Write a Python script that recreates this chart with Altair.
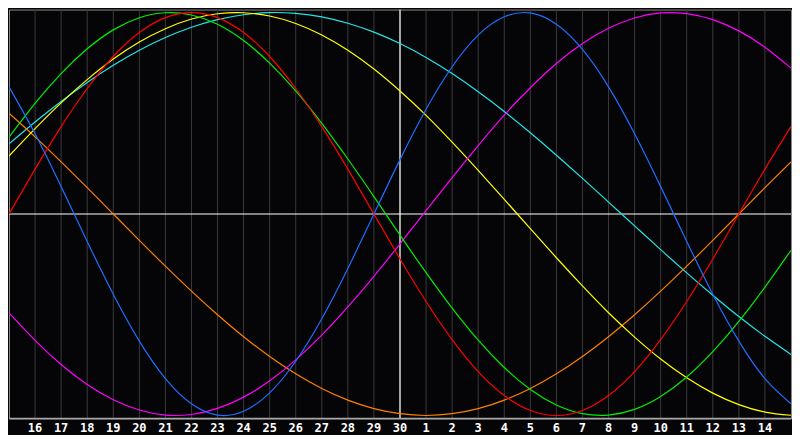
import altair as alt
import pandas as pd

# ---- data ----
day_index = list(range(31))          # sample days, 0 = the 15th of the first month
today_index = 15                     # the 30th (white vertical line)
tick_index = list(range(1, 30))
tick_labels = ["16", "17", "18", "19", "20", "21", "22", "23", "24", "25",
               "26", "27", "28", "29", "30", "1", "2", "3", "4", "5",
               "6", "7", "8", "9", "10", "11", "12", "13", "14"]

physical = [0.631, 0.398, 0.136, -0.136, -0.398, -0.631, -0.817, -0.942, -0.998, -0.979,
            -0.888, -0.731, -0.520, -0.270, 0.000, 0.270, 0.520, 0.731, 0.888, 0.979,
            0.998, 0.942, 0.817, 0.631, 0.398, 0.136, -0.136, -0.398, -0.631, -0.817, -0.942]
emotional = [0.000, 0.223, 0.434, 0.623, 0.782, 0.901, 0.975, 1.000, 0.975, 0.901,
             0.782, 0.623, 0.434, 0.223, 0.000, -0.223, -0.434, -0.623, -0.782, -0.901,
             -0.975, -1.000, -0.975, -0.901, -0.782, -0.623, -0.434, -0.223, 0.000, 0.223, 0.434]
intellectual = [0.381, 0.549, 0.697, 0.820, 0.914, 0.974, 0.999, 0.988, 0.942, 0.861,
                0.749, 0.611, 0.450, 0.273, 0.086, -0.105, -0.291, -0.467, -0.626, -0.762,
                -0.871, -0.948, -0.991, -0.998, -0.970, -0.906, -0.809, -0.683, -0.533, -0.363, -0.180]
intuitive = [-0.491, -0.627, -0.747, -0.846, -0.922, -0.973, -0.998, -0.995, -0.965, -0.909,
             -0.828, -0.724, -0.601, -0.461, -0.309, -0.148, 0.017, 0.181, 0.340, 0.491,
             0.627, 0.747, 0.846, 0.922, 0.973, 0.998, 0.995, 0.965, 0.909, 0.828, 0.724]
aesthetic = [0.288, 0.424, 0.552, 0.667, 0.769, 0.854, 0.920, 0.968, 0.994, 0.999,
             0.983, 0.946, 0.889, 0.813, 0.720, 0.611, 0.490, 0.357, 0.217, 0.073,
             -0.073, -0.217, -0.357, -0.490, -0.611, -0.720, -0.813, -0.889, -0.946, -0.983, -0.999]
awareness = [0.500, 0.383, 0.259, 0.131, 0.000, -0.131, -0.259, -0.383, -0.500, -0.609,
             -0.707, -0.793, -0.866, -0.924, -0.966, -0.991, -1.000, -0.991, -0.966, -0.924,
             -0.866, -0.793, -0.707, -0.609, -0.500, -0.383, -0.259, -0.131, 0.000, 0.131, 0.259]
spiritual = [0.348, 0.457, 0.559, 0.653, 0.738, 0.813, 0.876, 0.927, 0.965, 0.989,
             1.000, 0.996, 0.979, 0.947, 0.903, 0.846, 0.777, 0.697, 0.607, 0.509,
             0.403, 0.292, 0.177, 0.059, -0.059, -0.177, -0.292, -0.403, -0.509, -0.607, -0.697]

cycle_names = ["Spiritual", "Awareness", "Aesthetic", "Intuitive", "Intellectual", "Emotional", "Physical"]
cycle_values = [spiritual, awareness, aesthetic, intuitive, intellectual, emotional, physical]
cycle_colors = ["#22e6e6", "#ff8000", "#ffff00", "#ff00ff", "#00ee00", "#ff0000", "#1e6eff"]

rows = []
for name, vals in zip(cycle_names, cycle_values):
    for t, v in zip(day_index, vals):
        rows.append({"t": t, "v": v, "cycle": name})
df = pd.DataFrame(rows)
ticks_df = pd.DataFrame({"t": tick_index, "label": tick_labels})

W, H = 784, 410
xs = alt.Scale(domain=[0, 30], nice=False, zero=False)
ys = alt.Scale(domain=[-1.015, 1.015], nice=False, zero=False)

grid = alt.Chart(ticks_df).mark_rule(color="#3a3a3a", strokeWidth=1).encode(
    x=alt.X("t:Q", scale=xs, axis=None)
)

labels = alt.Chart(ticks_df).mark_text(
    color="#ffffff", font="DejaVu Sans Mono", fontWeight="bold", fontSize=12,
    baseline="middle", align="center", clip=False
).encode(
    x=alt.X("t:Q", scale=xs, axis=None),
    y=alt.value(H + 10),
    text="label:N",
)

today = alt.Chart(pd.DataFrame({"t": [today_index]})).mark_rule(
    color="#ffffff", strokeWidth=1.2
).encode(x=alt.X("t:Q", scale=xs, axis=None))

zero = alt.Chart(pd.DataFrame({"v": [0]})).mark_rule(
    color="#ffffff", strokeWidth=1.2
).encode(y=alt.Y("v:Q", scale=ys, axis=None))

bottom = alt.Chart(pd.DataFrame({"v": [-1.015]})).mark_rule(
    color="#a8a8a8", strokeWidth=1.5
).encode(y=alt.Y("v:Q", scale=ys, axis=None))

curves = alt.Chart(df).mark_line(strokeWidth=1.2, interpolate="natural", clip=True).encode(
    x=alt.X("t:Q", scale=xs, axis=None),
    y=alt.Y("v:Q", scale=ys, axis=None),
    color=alt.Color("cycle:N", scale=alt.Scale(domain=cycle_names, range=cycle_colors), legend=None),
    order=alt.Order("t:Q"),
)

chart = alt.layer(grid, today, zero, curves, bottom, labels).properties(
    width=W, height=H, padding=0, background="#050508"
).configure_view(stroke="#8a8a8a", strokeWidth=1)

chart.save("out.html", embed_options={"renderer": "svg", "actions": False})
